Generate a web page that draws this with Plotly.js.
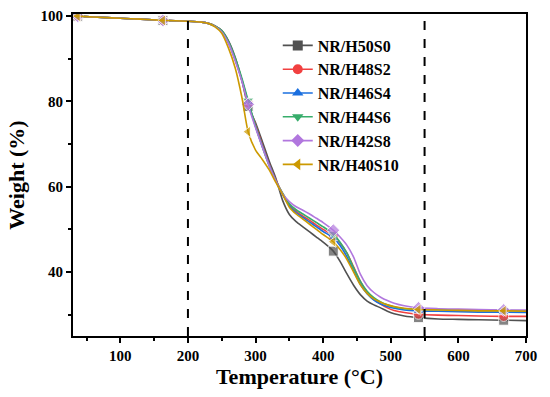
<!DOCTYPE html>
<html>
<head>
<meta charset="utf-8">
<script src="https://cdn.plot.ly/plotly-3.0.1.min.js"></script>
<style>html,body{margin:0;padding:0;background:#fff;}#chart{width:550px;height:397px;}</style>
</head>
<body>
<div id="chart"></div>
<script>
// Temperature grid (°C)
var temps = [30, 37, 60, 100, 130, 163, 200, 220, 230, 240, 250, 260, 270, 280, 289, 300, 310, 320, 330, 340, 350, 360, 370, 380, 390, 400, 415, 425, 435, 445, 455, 465, 475, 485, 495, 505, 520, 541, 570, 600, 630, 667, 700];
// Temperatures at which symbols are drawn
var markerTemps = [37, 163, 289, 415, 541, 667];
var refTemps = [200, 550];

var seriesNames = ["NR/H50S0", "NR/H48S2", "NR/H46S4", "NR/H44S6", "NR/H42S8", "NR/H40S10"];

var wH50S0 = [100.1, 100, 99.8, 99.5, 99.3, 99.0, 98.8, 98.6, 98.3, 97.7, 96.6, 94.2, 90.3, 84.8, 78.8, 75.0, 70.6, 66.1, 62.0, 56.8, 53.5, 51.8, 50.6, 49.4, 48.2, 47.0, 44.9, 42.5, 39.6, 36.9, 34.7, 33.2, 32.3, 31.6, 30.8, 30.2, 29.7, 29.3, 29.0, 28.9, 28.8, 28.7, 28.6];
var wH48S2 = [100.1, 100, 99.8, 99.5, 99.3, 99.0, 98.8, 98.6, 98.3, 97.7, 96.5, 93.8, 89.8, 84.9, 79.6, 74.5, 69.8, 65.4, 61.6, 58.4, 55.8, 54.2, 53.1, 52.1, 51.0, 50.0, 48.5, 46.8, 44.5, 41.2, 37.8, 35.3, 33.6, 32.5, 31.6, 31.0, 30.5, 30.1, 29.9, 29.8, 29.7, 29.6, 29.6];
var wH46S4 = [100.1, 100, 99.8, 99.5, 99.3, 99.0, 98.8, 98.6, 98.3, 97.6, 96.4, 93.7, 89.7, 84.9, 79.9, 74.1, 69.5, 65.2, 61.4, 58.2, 55.5, 53.9, 52.8, 51.7, 50.6, 49.5, 48.0, 46.2, 43.6, 40.3, 37.1, 34.9, 33.4, 32.5, 31.9, 31.5, 31.1, 30.9, 30.8, 30.7, 30.6, 30.6, 30.5];
var wH44S6 = [100.1, 100, 99.8, 99.5, 99.3, 99.0, 98.8, 98.6, 98.3, 97.7, 96.6, 94.0, 90.1, 85.3, 80.2, 74.2, 69.4, 65.0, 61.4, 58.5, 56.0, 54.6, 53.6, 52.6, 51.6, 50.6, 48.9, 47.0, 44.5, 41.0, 37.8, 35.5, 34.0, 33.0, 32.3, 31.8, 31.4, 31.3, 31.2, 31.1, 31.0, 31.0, 30.9];
var wH42S8 = [100.1, 100, 99.8, 99.5, 99.3, 99.0, 98.8, 98.6, 98.3, 97.6, 96.3, 93.6, 89.5, 84.6, 79.3, 73.8, 69.3, 65.0, 61.3, 58.3, 56.5, 55.3, 54.5, 53.6, 52.6, 51.6, 49.8, 48.2, 46.3, 43.5, 39.5, 36.8, 35.2, 34.1, 33.3, 32.7, 32.1, 31.6, 31.4, 31.3, 31.2, 31.1, 31.1];
var wH40S10 = [100.1, 100, 99.8, 99.5, 99.3, 99.0, 98.8, 98.6, 98.3, 97.5, 96.0, 92.5, 87.8, 80.8, 72.9, 68.6, 66.4, 64.0, 61.0, 58.2, 55.2, 53.6, 52.4, 51.2, 50.0, 48.8, 47.1, 45.3, 43.0, 40.0, 37.0, 35.0, 33.7, 32.9, 32.3, 31.9, 31.5, 31.2, 31.1, 31.0, 30.9, 30.9, 30.8];

var seriesValues = [wH50S0, wH48S2, wH46S4, wH44S6, wH42S8, wH40S10];
var colors = ["#515151", "#F14040", "#1A6FDF", "#37AD6B", "#B177DE", "#CC9900"];
var symbols = ["square", "circle", "triangle-up", "triangle-down", "diamond", "triangle-left"];

var MS = 10;
var sizes = temps.map(function (t) { return markerTemps.indexOf(t) >= 0 ? MS : 0; });

var traces = [];
seriesNames.forEach(function (name, i) {
  traces.push({
    x: temps, y: seriesValues[i], name: name, type: "scatter", mode: "lines+markers",
    line: { color: colors[i], width: 1.6, shape: "spline", smoothing: 0.6 },
    marker: { color: colors[i], symbol: symbols[i], size: sizes },
    showlegend: false
  });
});
// legend-only entries (no data drawn)
seriesNames.forEach(function (name, i) {
  traces.push({
    x: [null], y: [null], name: name, type: "scatter", mode: "lines+markers",
    line: { color: colors[i], width: 1.6 },
    marker: { color: colors[i], symbol: symbols[i], size: MS },
    showlegend: true
  });
});

var font = "'Liberation Serif', 'Times New Roman', serif";
var shapes = refTemps.map(function (t) {
  return { type: "line", xref: "x", yref: "paper", x0: t, x1: t, y0: 0, y1: 1,
           line: { color: "#000", width: 2, dash: "dash" } };
});

var layout = {
  width: 550, height: 397,
  margin: { l: 73, r: 24, t: 14, b: 61 },
  paper_bgcolor: "#fff", plot_bgcolor: "#fff",
  showlegend: true,
  legend: {
    x: 0.452, y: 0.955, xanchor: "left", yanchor: "top",
    bgcolor: "rgba(0,0,0,0)", tracegroupgap: 0,
    font: { family: font, size: 16, color: "#000", weight: "bold" }
  },
  xaxis: {
    range: [30, 700], tickvals: [100, 200, 300, 400, 500, 600, 700],
    ticks: "outside", ticklen: 5, tickwidth: 2, tickcolor: "#000",
    minor: { dtick: 50, tick0: 0, ticks: "outside", ticklen: 3, tickwidth: 2, tickcolor: "#000" },
    showline: true, linewidth: 2, linecolor: "#000", mirror: true,
    showgrid: false, zeroline: false,
    tickfont: { family: font, size: 15, color: "#000", weight: "bold" },
    title: { text: "Temperature (°C)", font: { family: font, size: 22, color: "#000", weight: "bold" }, standoff: 6 }
  },
  yaxis: {
    range: [25, 100.5], tickvals: [40, 60, 80, 100],
    ticks: "outside", ticklen: 5, tickwidth: 2, tickcolor: "#000",
    minor: { dtick: 10, tick0: 0, ticks: "outside", ticklen: 3, tickwidth: 2, tickcolor: "#000" },
    showline: true, linewidth: 2, linecolor: "#000", mirror: true,
    showgrid: false, zeroline: false,
    tickfont: { family: font, size: 15, color: "#000", weight: "bold" },
    title: { text: "Weight (%)", font: { family: font, size: 22, color: "#000", weight: "bold" }, standoff: 10 }
  },
  shapes: shapes
};

Plotly.newPlot("chart", traces, layout, { displayModeBar: false, staticPlot: true });
</script>
</body>
</html>
